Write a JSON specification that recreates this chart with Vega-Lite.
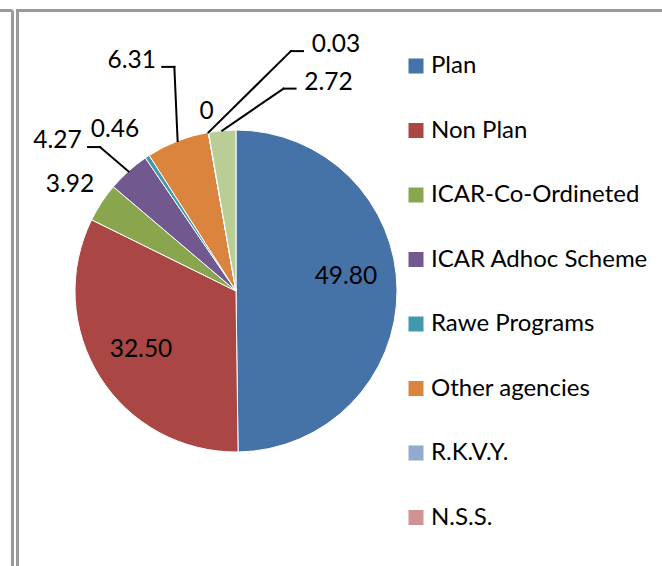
{
  "$schema": "https://vega.github.io/schema/vega-lite/v6.json",
  "width": 644.5,
  "height": 555.5,
  "autosize": {"type": "none"},
  "padding": {"left": 17.5, "top": 10.5, "right": 0, "bottom": 0},
  "background": "white",
  "config": {
    "view": {"stroke": "#9a9a9a", "strokeWidth": 3, "strokeDash": [644.5, 1200, 557.5]},
    "font": "Lato"
  },
  "data": {
    "values": [
      {"idx": 0, "category": "Plan", "value": 49.80},
      {"idx": 1, "category": "Non Plan", "value": 32.50},
      {"idx": 2, "category": "ICAR-Co-Ordineted", "value": 3.92},
      {"idx": 3, "category": "ICAR Adhoc Scheme", "value": 4.27},
      {"idx": 4, "category": "Rawe Programs", "value": 0.46},
      {"idx": 5, "category": "Other agencies", "value": 6.31},
      {"idx": 6, "category": "R.K.V.Y.", "value": 0},
      {"idx": 7, "category": "N.S.S.", "value": 0.03},
      {"idx": 8, "category": "Others", "value": 2.72}
    ]
  },
  "transform": [
    {"joinaggregate": [{"op": "sum", "field": "value", "as": "total"}]},
    {"window": [{"op": "sum", "field": "value", "as": "cum"}], "sort": [{"field": "idx"}], "frame": [null, 0]},
    {"calculate": "2*PI*(datum.cum - datum.value/2)/datum.total", "as": "mid"},
    {"calculate": "sin(datum.mid)", "as": "ex"},
    {"calculate": "cos(datum.mid)", "as": "ey"},
    {"calculate": "[0.683,-0.590,-1.031,-1.109,-0.752,-0.648,-0.183,0.621,0.575][datum.idx]", "as": "lx"},
    {"calculate": "[0.087,-0.367,0.658,0.932,1.002,1.430,1.109,1.528,1.295][datum.idx]", "as": "ly"},
    {"calculate": "[0,0,0,1,0,1,0,-1,-1][datum.idx]", "as": "side"},
    {"calculate": "datum.lx + (datum.side > 0 ? 0.19 : -0.205)", "as": "tx"},
    {"calculate": "datum.ly - 0.038", "as": "ty"},
    {"calculate": "datum.tx + datum.side*0.075", "as": "bx"},
    {"calculate": "datum.value === 0 ? '0' : format(datum.value, '.2f')", "as": "lbl"}
  ],
  "layer": [
    {
      "mark": {
        "type": "arc",
        "radius": 161,
        "stroke": "white",
        "strokeWidth": 1,
        "x": {"expr": "scale('x', 0)"},
        "y": {"expr": "scale('y', 0)"}
      },
      "encoding": {
        "theta": {"field": "value", "type": "quantitative", "stack": true},
        "order": {"field": "idx", "type": "quantitative"},
        "color": {
          "field": "category",
          "type": "nominal",
          "scale": {
            "domain": ["Plan", "Non Plan", "ICAR-Co-Ordineted", "ICAR Adhoc Scheme", "Rawe Programs", "Other agencies", "R.K.V.Y.", "N.S.S.", "Others"],
            "range": ["#4572A7", "#AA4643", "#89A54E", "#71588F", "#4198AF", "#DB843D", "#93A9CF", "#D19392", "#B9CD96"]
          },
          "legend": {
            "orient": "none",
            "legendX": 386.5,
            "legendY": 43.5,
            "values": ["Plan", "Non Plan", "ICAR-Co-Ordineted", "ICAR Adhoc Scheme", "Rawe Programs", "Other agencies", "R.K.V.Y.", "N.S.S."],
            "title": null,
            "padding": 0,
            "symbolType": "square",
            "symbolSize": 225,
            "symbolStrokeWidth": 0,
            "labelFont": "Lato",
            "labelFontSize": 24,
            "labelColor": "#000000",
            "labelOffset": 3,
            "labelLimit": 300,
            "rowPadding": 40.5
          }
        }
      }
    },
    {
      "transform": [{"filter": "datum.side != 0"}],
      "mark": {"type": "rule", "color": "#000000", "strokeWidth": 2, "strokeCap": "square"},
      "encoding": {
        "x": {"field": "ex", "type": "quantitative", "axis": null, "scale": {"domain": [-1.35714, 2.64596], "zero": false, "nice": false}},
        "y": {"field": "ey", "type": "quantitative", "axis": null, "scale": {"domain": [-1.70807, 1.74224], "zero": false, "nice": false}},
        "x2": {"field": "bx"},
        "y2": {"field": "ty"}
      }
    },
    {
      "transform": [{"filter": "datum.side != 0"}],
      "mark": {"type": "rule", "color": "#000000", "strokeWidth": 2, "strokeCap": "square"},
      "encoding": {
        "x": {"field": "bx", "type": "quantitative", "axis": null},
        "y": {"field": "ty", "type": "quantitative", "axis": null},
        "x2": {"field": "tx"},
        "y2": {"field": "ty"}
      }
    },
    {
      "mark": {"type": "text", "font": "Lato", "fontSize": 24.5, "color": "#000000", "align": "center", "baseline": "middle"},
      "encoding": {
        "x": {"field": "lx", "type": "quantitative", "axis": null},
        "y": {"field": "ly", "type": "quantitative", "axis": null},
        "text": {"field": "lbl"}
      }
    },
    {
      "data": {"values": [{}]},
      "mark": {"type": "rule", "color": "#9a9a9a", "strokeWidth": 3},
      "encoding": {
        "x": {"datum": -1.3882, "type": "quantitative"}
      }
    },
    {
      "data": {"values": [{}]},
      "mark": {"type": "rule", "color": "#9a9a9a", "strokeWidth": 3},
      "encoding": {
        "x": {"datum": -1.4658, "type": "quantitative"},
        "x2": {"datum": -1.3882},
        "y": {"datum": 1.74224, "type": "quantitative"}
      }
    }
  ]
}
